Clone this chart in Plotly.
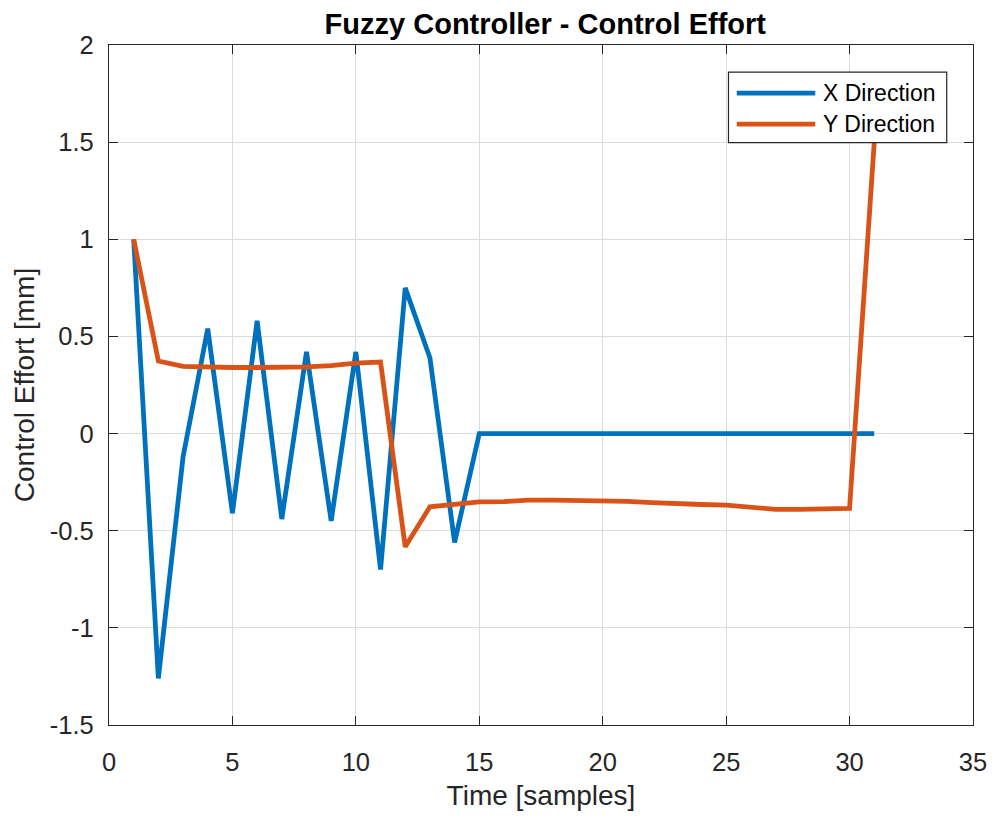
import plotly.graph_objects as go

# Sample index and control effort for each direction
samples = list(range(1, 32))
x_effort = [1.0, -1.26, -0.12, 0.54, -0.41, 0.58, -0.44, 0.42, -0.45, 0.42,
            -0.70, 0.75, 0.39, -0.56, 0, 0, 0, 0, 0, 0,
            0, 0, 0, 0, 0, 0, 0, 0, 0, 0, 0]
y_effort = [1.0, 0.373, 0.346, 0.34, 0.34, 0.34, 0.34, 0.343, 0.35, 0.363,
            0.368, -0.583, -0.377, -0.365, -0.352, -0.35, -0.343, -0.343, -0.343, -0.343,
            -0.349, -0.355, -0.362, -0.365, -0.368, -0.378, -0.39, -0.39, -0.389, -0.385,
            1.5]

series_names = ["X Direction", "Y Direction"]
series_colors = ["#0072BD", "#D95319"]

x_ticks = [0, 5, 10, 15, 20, 25, 30, 35]
x_ticktext = ["0", "5", "10", "15", "20", "25", "30", "35"]
y_ticks = [-1.5, -1, -0.5, 0, 0.5, 1, 1.5, 2]
y_ticktext = ["-1.5", "-1", "-0.5", "0", "0.5", "1", "1.5", "2"]

FONT = "Liberation Sans, Arial, Helvetica, sans-serif"
AX = "#262626"
GRID = "#dcdcdc"

fig = go.Figure()
for name, vals, col in zip(series_names, [x_effort, y_effort], series_colors):
    fig.add_trace(go.Scatter(x=samples, y=vals, mode="lines", name=name,
                             line=dict(color=col, width=4.8),
                             showlegend=False))

axis_common = dict(
    showline=True, linecolor=AX, linewidth=1.3, mirror="ticks",
    ticks="inside", ticklen=9, tickwidth=1.2, tickcolor=AX,
    showgrid=True, gridcolor=GRID, gridwidth=1, zeroline=False,
    tickfont=dict(family=FONT, size=25.5, color=AX),
)

fig.update_xaxes(range=[0, 35], tickvals=x_ticks, ticktext=x_ticktext,
                 ticklabelstandoff=14,
                 title=dict(text="Time [samples]", standoff=10,
                            font=dict(family=FONT, size=28, color=AX)),
                 **axis_common)
fig.update_yaxes(range=[-1.5, 2], tickvals=y_ticks, ticktext=y_ticktext,
                 ticklabelstandoff=9,
                 title=dict(text="Control Effort [mm]", standoff=6,
                            font=dict(family=FONT, size=28, color=AX)),
                 **axis_common)

# Boxed legend in the upper right of the axes
lg_x0, lg_x1, lg_y0, lg_y1 = 0.7170, 0.9696, 0.8564, 0.9600
shapes = [dict(type="rect", xref="paper", yref="paper", x0=lg_x0, x1=lg_x1,
               y0=lg_y0, y1=lg_y1, line=dict(color=AX, width=1.2),
               fillcolor="white", layer="above")]
annotations = []
row_y = [0.9291, 0.8836]
for name, col, ry in zip(series_names, series_colors, row_y):
    shapes.append(dict(type="line", xref="paper", yref="paper",
                       x0=0.7266, x1=0.8174, y0=ry, y1=ry,
                       line=dict(color=col, width=4.8), layer="above"))
    annotations.append(dict(xref="paper", yref="paper", x=0.8245, y=ry,
                            xanchor="left", yanchor="middle", showarrow=False,
                            text=name, font=dict(family=FONT, size=23, color="#000000")))

fig.update_layout(
    width=993, height=816,
    margin=dict(l=108.5, r=20, t=44.5, b=91, autoexpand=False),
    paper_bgcolor="white", plot_bgcolor="white",
    title=dict(text="<b>Fuzzy Controller - Control Effort</b>",
               x=0.505, xref="paper", xanchor="center",
               y=1 - 24 / 816, yref="container", yanchor="middle",
               font=dict(family=FONT, size=29, color="#000000")),
    shapes=shapes, annotations=annotations,
    showlegend=False,
)

fig.write_html("out.html")
